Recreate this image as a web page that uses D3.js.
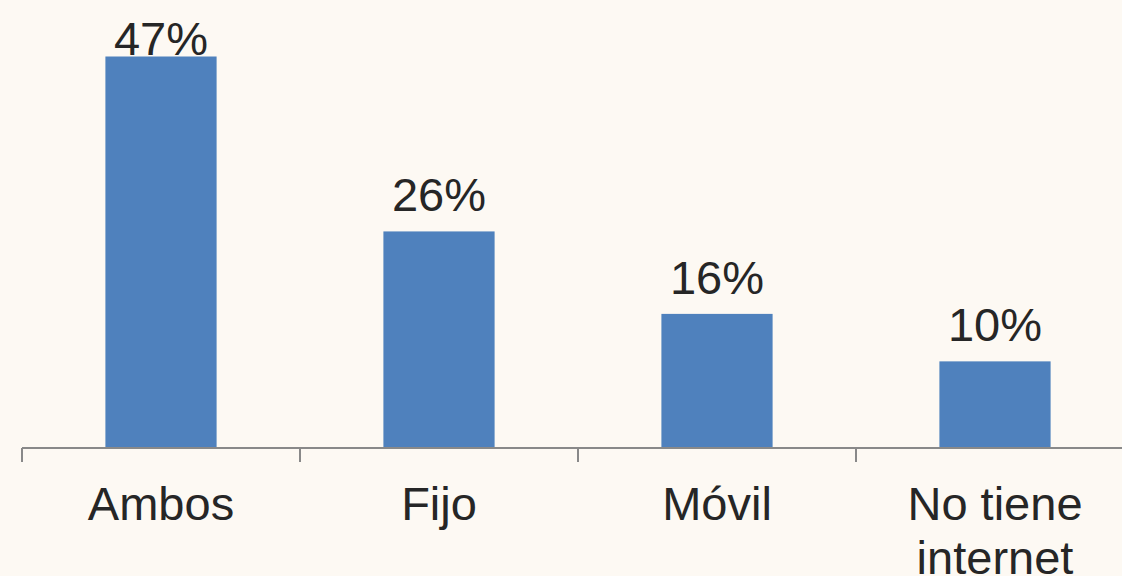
<!DOCTYPE html>
<html>
<head>
<meta charset="utf-8">
<script src="https://cdn.jsdelivr.net/npm/d3@7"></script>
<style>
html,body{margin:0;padding:0;background:#fdf9f3;}
svg{display:block;}
text{font-family:"Liberation Sans",Arial,sans-serif;fill:#262626;}
</style>
</head>
<body>
<svg id="chart" width="1122" height="576"></svg>
<script>
const categories = ["Ambos", "Fijo", "Móvil", "No tiene internet"];
const values = [47.0, 26.0, 16.1, 10.4];
const valueLabels = ["47%", "26%", "16%", "10%"];

const W = 1122, H = 576;
const svg = d3.select("#chart");
svg.append("rect").attr("width", W).attr("height", H).attr("fill", "#fdf9f3");

const x = d3.scaleBand().domain(categories).range([22, 1134]).paddingInner(0.6).paddingOuter(0.3);
const y = d3.scaleLinear().domain([0, 47]).range([448, 56.5]);

// bars
svg.selectAll("rect.bar").data(categories).enter().append("rect")
  .attr("class", "bar")
  .attr("x", d => x(d))
  .attr("width", x.bandwidth())
  .attr("y", (d, i) => y(values[i]))
  .attr("height", (d, i) => y(0) - y(values[i]))
  .attr("fill", "#4f81bd");

// axis line and ticks at band boundaries
const step = x.step();
const x0 = x.range()[0];
svg.append("line").attr("x1", x0).attr("x2", x.range()[1]).attr("y1", y(0)).attr("y2", y(0))
  .attr("stroke", "#898989").attr("stroke-width", 2);
const boundaries = d3.range(categories.length + 1).map(i => x0 + i * step);
svg.selectAll("line.tick").data(boundaries).enter().append("line")
  .attr("class", "tick")
  .attr("x1", d => d).attr("x2", d => d)
  .attr("y1", y(0)).attr("y2", y(0) + 14)
  .attr("stroke", "#898989").attr("stroke-width", 2);

// value labels
svg.selectAll("text.val").data(categories).enter().append("text")
  .attr("class", "val")
  .attr("x", d => x(d) + x.bandwidth() / 2)
  .attr("y", (d, i) => Math.max(y(values[i]) - 20, 55))
  .attr("text-anchor", "middle")
  .attr("font-size", 47)
  .text((d, i) => valueLabels[i]);

// category labels (wrapped)
const wrapped = { "No tiene internet": ["No tiene", "internet"] };
categories.forEach(c => {
  const lines = wrapped[c] || [c];
  const t = svg.append("text")
    .attr("x", x(c) + x.bandwidth() / 2)
    .attr("y", 520)
    .attr("text-anchor", "middle")
    .attr("font-size", 47);
  lines.forEach((ln, k) => {
    t.append("tspan").attr("x", x(c) + x.bandwidth() / 2).attr("dy", k === 0 ? 0 : 54).text(ln);
  });
});
</script>
</body>
</html>
